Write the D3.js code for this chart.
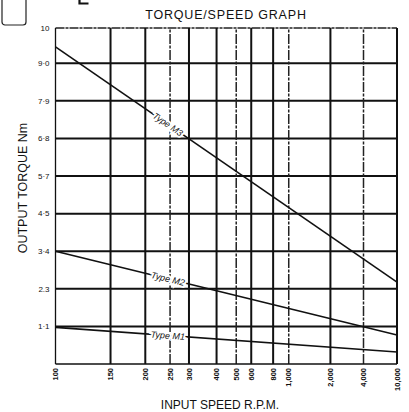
<!DOCTYPE html>
<html>
<head>
<meta charset="utf-8">
<script src="https://cdn.jsdelivr.net/npm/d3@7"></script>
<style>
  body { margin: 0; background: #fff; }
  text { font-family: "Liberation Sans", Arial, sans-serif; fill: #111; }
</style>
</head>
<body>
<svg id="chart"></svg>
<script>
// x ticks (input speed, rpm)
var rpmTicks = [100, 150, 200, 250, 300, 400, 500, 600, 800, 1000, 2000, 4000, 10000]
var rpmLabels = ["100", "150", "200", "250", "300", "400", "500", "600", "800", "1,000", "2,000", "4,000", "10,000"]
var dashedRpm = [250, 500, 1000, 4000]

// y ticks (output torque, Nm)
var torqueTicks = [1.13, 2.26, 3.39, 4.52, 5.65, 6.78, 7.91, 9.04, 10.1]
var torqueLabels = ["1·1", "2.3", "3·4", "4·5", "5·7", "6·8", "7·9", "9·0", "10"]

// series: torque at 100 rpm and 10,000 rpm
var speeds = [100, 10000]
var typeM1 = [1.1, 0.36]
var typeM2 = [3.39, 0.87]
var typeM3 = [9.53, 2.46]
var seriesNames = ["Type M1", "Type M2", "Type M3"]
var labelRpm = 245

var width = 409, height = 412
var svg = d3.select("#chart").attr("width", width).attr("height", height)

var margin = {left: 55.5, right: 12, top: 28, bottom: 48}

// chart paper uses a rpm^(-1/3) speed scale
var x = d3.scalePow().exponent(-1 / 3)
    .domain([100, 10000])
    .range([margin.left, width - margin.right])
var y = d3.scaleLinear()
    .domain([0, 10.1])
    .range([height - margin.bottom, margin.top])

// corner box and the cut-off stroke of a letter above the chart
svg.append("rect")
    .attr("x", 2).attr("y", -6)
    .attr("width", 24).attr("height", 31)
    .attr("rx", 3)
    .attr("fill", "none").attr("stroke", "#222").attr("stroke-width", 1.2)
svg.append("path")
    .attr("d", "M79.5,0V3.5H88.5")
    .attr("fill", "none").attr("stroke", "#111").attr("stroke-width", 2.2)

svg.append("text")
    .attr("x", 226).attr("y", 19)
    .attr("text-anchor", "middle")
    .style("font-size", "12.5px").style("letter-spacing", "0.8px")
    .text("TORQUE/SPEED GRAPH")

// horizontal grid
svg.append("g").selectAll("line")
    .data(torqueTicks.slice(0, -1))
    .enter().append("line")
    .attr("x1", x(100)).attr("x2", x(10000))
    .attr("y1", d => y(d)).attr("y2", d => y(d))
    .attr("stroke", "#111").attr("stroke-width", 2)

// top border
svg.append("line")
    .attr("x1", x(100)).attr("x2", x(10000))
    .attr("y1", y(10.1)).attr("y2", y(10.1))
    .attr("stroke", "#222").attr("stroke-width", 1.4)
    .attr("stroke-dasharray", "9,1,3,1")

// vertical grid
svg.append("g").selectAll("line")
    .data(rpmTicks)
    .enter().append("line")
    .attr("x1", d => x(d)).attr("x2", d => x(d))
    .attr("y1", y(0)).attr("y2", y(10.1))
    .attr("stroke", d => dashedRpm.includes(d) ? "#222" : "#111")
    .attr("stroke-width", d => d == 100 ? 1.3 : dashedRpm.includes(d) ? 1.5 : 2)
    .attr("stroke-dasharray", d => dashedRpm.includes(d) ? "10,1.5,3,1.5" : null)

// bottom axis line
svg.append("line")
    .attr("x1", x(100)).attr("x2", x(10000))
    .attr("y1", y(0)).attr("y2", y(0))
    .attr("stroke", "#111").attr("stroke-width", 1.6)

// tick labels
svg.append("g").selectAll("text")
    .data(rpmTicks)
    .enter().append("text")
    .attr("transform", d => "translate(" + x(d) + "," + (y(0) + 4) + ") rotate(-90)")
    .attr("text-anchor", "end")
    .attr("dy", "0.35em")
    .style("font-size", "7.5px")
    .style("font-weight", "bold")
    .text((d, i) => rpmLabels[i])

svg.append("g").selectAll("text")
    .data(torqueTicks)
    .enter().append("text")
    .attr("x", margin.left - 6)
    .attr("y", d => y(d))
    .attr("dy", "0.35em")
    .attr("text-anchor", "end")
    .style("font-size", "8px")
    .text((d, i) => torqueLabels[i])

// axis titles
svg.append("text")
    .attr("x", 220).attr("y", 409)
    .attr("text-anchor", "middle")
    .style("font-size", "12px")
    .text("INPUT SPEED R.P.M.")
svg.append("text")
    .attr("transform", "translate(27,188) rotate(-90)")
    .attr("text-anchor", "middle")
    .style("font-size", "12.5px")
    .text("OUTPUT TORQUE Nm")

// series lines
var line = d3.line()
    .x(d => x(d[0]))
    .y(d => y(d[1]))

var series = [typeM1, typeM2, typeM3]
series.forEach(function (s, k) {
    var pts = speeds.map((v, i) => [v, s[i]])
    svg.append("path")
        .datum(pts)
        .attr("d", line)
        .attr("fill", "none")
        .attr("stroke", "#111")
        .attr("stroke-width", 1.6)

    // label sits on the line, at its slope
    var x0 = x(speeds[0]), x1 = x(speeds[1])
    var y0 = y(s[0]), y1 = y(s[1])
    var t = (x(labelRpm) - x0) / (x1 - x0)
    var lx = x(labelRpm), ly = y0 + t * (y1 - y0)
    var ang = Math.atan2(y1 - y0, x1 - x0) * 180 / Math.PI
    svg.append("text")
        .attr("transform", "translate(" + lx + "," + ly + ") rotate(" + ang + ")")
        .attr("text-anchor", "middle")
        .attr("dy", "0.35em")
        .style("font-size", "9px")
        .style("font-style", "italic")
        .style("paint-order", "stroke")
        .style("stroke", "#fff")
        .style("stroke-width", "4px")
        .text(seriesNames[k])
})
</script>
</body>
</html>
